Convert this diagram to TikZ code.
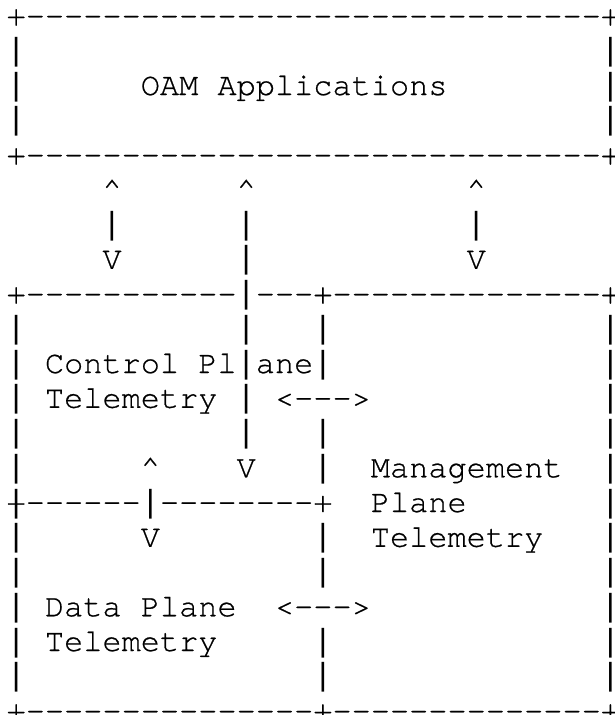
\documentclass[tikz,border=0pt]{standalone}
\usepackage{fontspec}
\setmonofont[FakeBold = 0.6]{texgyrecursor-regular.otf}
\newfontfamily\barfont{Liberation Mono}
\newcommand\vln{{\barfont|}}

\begin{document}
\begin{tikzpicture}[x = 19.17pt, y = -34.75pt,
		every node/.style = {inner sep = 0pt, anchor = base west,
			font = \ttfamily\fontsize{31.95}{34.75}\selectfont}]
		\useasboundingbox (-6.4pt, 25.5pt) rectangle (607.6pt, -689.5pt);
		%%%%%%%%%%%%% applications box
		\node (apptop) at (0, 0) {+\foreach \i in {1, ..., 30} {-}+};
		\foreach \r in {1, 2, 3} {\node (appl\r) at (0, \r) {\vln}; \node (appr\r) at (31, \r) {\vln};}
		\node (oam) at (7, 2) {OAM Applications};
		\node (appbot) at (0, 4) {+\foreach \i in {1, ..., 30} {-}+};
		%%%%%%%%%%%%% links up to the applications
		\node (cpup) at (5, 5) {\textasciicircum}; \node (cpbar) at (5, 6) {\vln}; \node (cpdown) at (5, 7) {V};
		\node (dpup) at (12, 5) {\textasciicircum}; \node (dpbar1) at (12, 6) {\vln}; \node (dpbar2) at (12, 7) {\vln};
		\node (mpup) at (24, 5) {\textasciicircum}; \node (mpbar) at (24, 6) {\vln}; \node (mpdown) at (24, 7) {V};
		%%%%%%%%%%%%% telemetry boxes
		\node (teltop) at (0, 8) {+\foreach \i in {1, ..., 11} {-}\vln-{}-{}-+\foreach \i in {1, ..., 14} {-}+};
		\foreach \r in {9, ..., 19} {\node (tell\r) at (0, \r) {\vln}; \node (telr\r) at (31, \r) {\vln};}
		\foreach \r in {9, 12} {\node (dpbar\r) at (12, \r) {\vln};}
		\foreach \r in {9, 12, 13, 15, 16, 18, 19} {\node (mid\r) at (16, \r) {\vln};}
		\node (cp1) at (2, 10) {Control Pl\vln ane\vln};
		\node (cp2) at (2, 11) {Telemetry}; \node (dpbar11) at (12, 11) {\vln};
		\node (cpmp) at (14, 11) {<-{}-{}->};
		\node (dpcpup) at (7, 13) {\textasciicircum}; \node (dpdown) at (12, 13) {V};
		\node (mp1) at (19, 13) {Management};
		\node (cpbot) at (0, 14) {+\foreach \i in {1, ..., 6} {-}\vln\foreach \i in {1, ..., 8} {-}+};
		\node (mp2) at (19, 14) {Plane};
		\node (dpcpdown) at (7, 15) {V};
		\node (mp3) at (19, 15) {Telemetry};
		\node (dp1) at (2, 17) {Data Plane};
		\node (dpmp) at (14, 17) {<-{}-{}->};
		\node (dp2) at (2, 18) {Telemetry};
		\node (telbot) at (0, 20) {+\foreach \i in {1, ..., 15} {-}+\foreach \i in {1, ..., 14} {-}+};
\end{tikzpicture}
\end{document}
